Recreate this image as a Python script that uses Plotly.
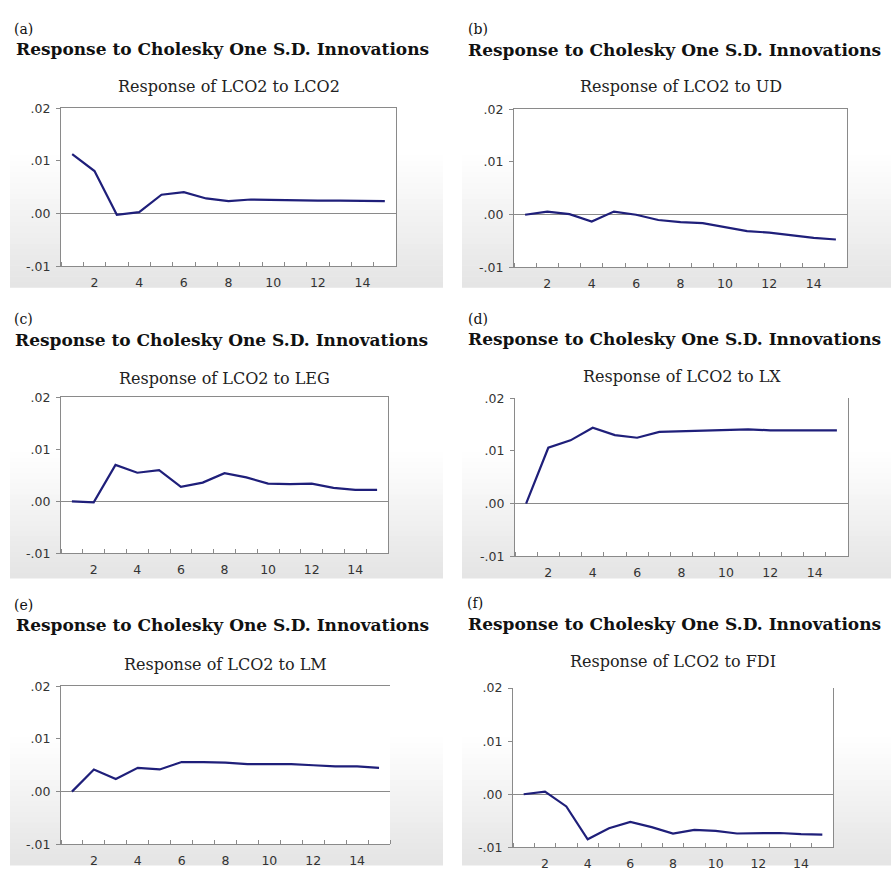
import plotly.graph_objects as go

W, H = 891, 872

periods = list(range(1, 16))
resp_lco2 = [0.0113, 0.0081, -0.0002, 0.0003, 0.0036, 0.0041, 0.0029, 0.0024,
             0.0027, 0.0026, 0.0025, 0.0025, 0.0025, 0.0025, 0.0024]
resp_ud = [0.0000, 0.0006, 0.0001, -0.0013, 0.0006, 0.0000, -0.0010, -0.0014,
           -0.0016, -0.0024, -0.0031, -0.0034, -0.0039, -0.0044, -0.0047]
resp_leg = [0.0000, -0.0002, 0.0070, 0.0055, 0.0060, 0.0028, 0.0036, 0.0054,
            0.0046, 0.0034, 0.0033, 0.0034, 0.0026, 0.0022, 0.0022]
resp_lx = [0.0000, 0.0106, 0.0120, 0.0144, 0.0130, 0.0125, 0.0136, 0.0137,
           0.0139, 0.0139, 0.0141, 0.0139, 0.0139, 0.0140, 0.0139]
resp_lm = [0.0000, 0.0042, 0.0024, 0.0045, 0.0042, 0.0056, 0.0056, 0.0055,
           0.0052, 0.0052, 0.0052, 0.0050, 0.0048, 0.0048, 0.0045]
resp_fdi = [0.0000, 0.0005, -0.0023, -0.0085, -0.0064, -0.0052, -0.0062, -0.0074,
            -0.0067, -0.0069, -0.0074, -0.0073, -0.0073, -0.0075, -0.0076]

panel_letters = ["(a)", "(b)", "(c)", "(d)", "(e)", "(f)"]
subtitles = ["Response of LCO2 to LCO2", "Response of LCO2 to UD",
             "Response of LCO2 to LEG", "Response of LCO2 to LX",
             "Response of LCO2 to LM", "Response of LCO2 to FDI"]
header = "Response to Cholesky One S.D. Innovations"
ytick_vals = [-0.01, 0.0, 0.01, 0.02]
ytick_text = ["-.01", ".00", ".01", ".02"]
xtick_vals = [2, 4, 6, 8, 10, 12, 14]
series = [resp_lco2, resp_ud, resp_leg, resp_lx, resp_lm, resp_fdi]

# layout geometry (pixels)
boxes = [(61, 396, 102, 263), (514, 847, 103, 264),
         (61, 388, 396, 555), (515, 848, 397, 558),
         (61, 390, 690, 851), (513, 833, 692, 854)]
letter_pos = [(12, 21), (466, 21), (12, 316), (466, 316), (12, 607), (465, 605)]
header_pos = [(14, 42), (466, 43), (13, 338), (466, 337), (14, 628), (466, 627)]
sub_y = [80, 80, 377, 375, 668, 665]
mirror_x = [True, True, True, False, True, False]   # top border
mirror_y = [True, True, True, True, False, True]    # right border
grad_boxes = [(10, 443, 150, 284), (462, 891, 150, 284),
              (10, 443, 452, 580), (462, 891, 452, 580),
              (10, 443, 742, 872), (462, 891, 742, 872)]

def px(x):
    return x / W

def py(y):
    return 1 - y / H

fig = go.Figure()
shapes = []
annotations = []
layout = {}
axis_gray = "#8a8a8a"

# gradient backgrounds
NSTEP = 24
for (gx0, gx1, gy0, gy1) in grad_boxes:
    for k in range(NSTEP):
        t = (k + 0.5) / NSTEP
        c = int(round(255 - 27 * t))
        ya = gy0 + (gy1 - gy0) * k / NSTEP
        yb = gy0 + (gy1 - gy0) * (k + 1) / NSTEP + 0.6
        shapes.append(dict(type="rect", xref="paper", yref="paper",
                           x0=px(gx0), x1=px(gx1), y0=py(yb), y1=py(ya),
                           fillcolor=f"rgb({c},{c},{c})", line=dict(width=0),
                           layer="below"))

for i in range(6):
    x0, x1, y0, y1 = boxes[i]
    # white plot area
    shapes.append(dict(type="rect", xref="paper", yref="paper",
                       x0=px(x0), x1=px(x1), y0=py(y1), y1=py(y0),
                       fillcolor="white", line=dict(width=0), layer="below"))
    n = "" if i == 0 else str(i + 1)
    xa = "x" + n
    ya = "y" + n
    fig.add_trace(go.Scatter(x=periods, y=series[i], mode="lines",
                             line=dict(color="#1f1f7a", width=2.2),
                             xaxis=xa, yaxis=ya, showlegend=False,
                             hoverinfo="x+y"))
    layout["xaxis" + n] = dict(
        domain=[px(x0), px(x1)], anchor=ya, range=[0.5, 15.5],
        tickmode="array", tickvals=xtick_vals, ticks="",
        showgrid=False, zeroline=False, showline=True, linecolor=axis_gray,
        linewidth=1, mirror=mirror_x[i], ticklabelstandoff=5,
        tickfont=dict(family="DejaVu Sans", size=12.5, color="#333333"),
        minor=dict(tickmode="linear", tick0=0.5, dtick=1, ticks="inside",
                   ticklen=4, tickcolor=axis_gray, tickwidth=1, showgrid=False),
        fixedrange=True)
    layout["yaxis" + n] = dict(
        domain=[py(y1), py(y0)], anchor=xa, range=[-0.01, 0.02],
        tickmode="array", tickvals=ytick_vals, ticktext=ytick_text,
        ticks="outside", ticklen=4, tickcolor=axis_gray, tickwidth=1,
        showgrid=False, zeroline=True, zerolinecolor=axis_gray, zerolinewidth=1,
        showline=True, linecolor=axis_gray, linewidth=1, mirror=mirror_y[i],
        ticklabelstandoff=3,
        tickfont=dict(family="DejaVu Sans", size=12.5, color="#333333"),
        fixedrange=True)
    lx, ly = letter_pos[i]
    annotations.append(dict(text=panel_letters[i], xref="paper", yref="paper",
                            x=px(lx), y=py(ly), xanchor="left", yanchor="middle",
                            showarrow=False,
                            font=dict(family="DejaVu Serif", size=14, color="#111111")))
    hx, hy = header_pos[i]
    annotations.append(dict(text="<b>" + header + "</b>", xref="paper", yref="paper",
                            x=px(hx), y=py(hy), xanchor="left", yanchor="middle",
                            showarrow=False,
                            font=dict(family="DejaVu Serif", size=17, color="#111111")))
    annotations.append(dict(text=subtitles[i], xref="paper", yref="paper",
                            x=px((x0 + x1) / 2), y=py(sub_y[i]), xanchor="center",
                            yanchor="middle", showarrow=False,
                            font=dict(family="DejaVu Serif", size=16, color="#222222")))

fig.update_layout(
    width=W, height=H, margin=dict(l=0, r=0, t=0, b=0),
    paper_bgcolor="white", plot_bgcolor="white",
    shapes=shapes, annotations=annotations, showlegend=False,
    **layout)

fig.write_html("out.html", config={"displayModeBar": False},
               post_script="document.body.style.margin='0';"
                           "document.body.style.overflow='hidden';")
